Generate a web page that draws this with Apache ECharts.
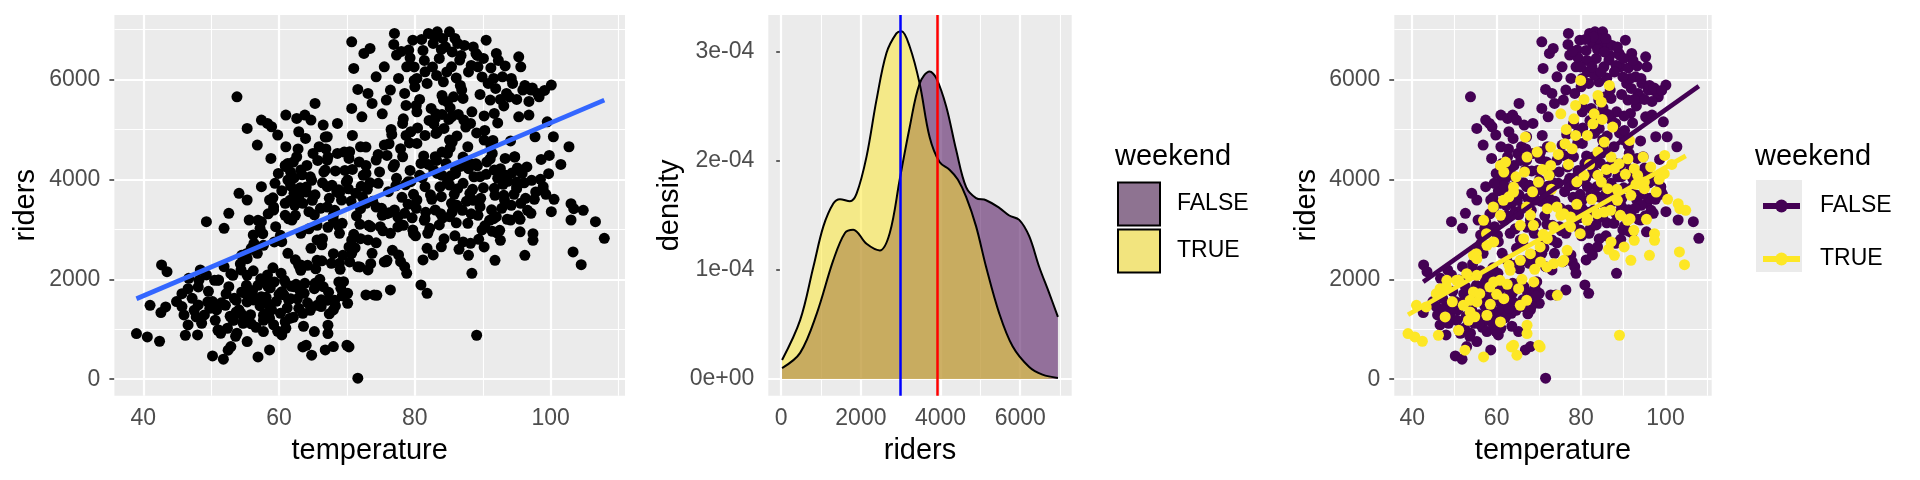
<!DOCTYPE html>
<html>
<head>
<meta charset="utf-8">
<script src="https://cdn.jsdelivr.net/npm/echarts@6/dist/echarts.min.js"></script>
<style>
  html, body { margin: 0; padding: 0; background: #fff; }
  #chart { width: 1920px; height: 480px; }
</style>
</head>
<body>
<div id="chart"></div>
<script>
// ---- data ----
// weekday days: [temperature, riders]
const weekdayPts = [
  [42.6,1333],[42.7,2287],[43.5,2153],[44.9,1553],[45.7,1453],[46.0,1287],[46.6,1087],[48.0,887],[46.7,2020],[48.4,2187],
  [48.1,1487],[49.0,1287],[49.3,3153],[49.3,2087],[50.2,467],[51.8,400],[52.9,653],[51.1,987],[50.2,1553],[50.8,1387],
  [51.4,920],[51.1,1987],[51.9,3020],[52.6,3320],[53.8,5653],[51.9,2253],[52.6,1853],[53.2,1187],[53.8,920],[54.1,3720],
  [55.3,3587],[55.3,5020],[55.6,3187],[54.4,2187],[55.0,1720],[55.3,753],[54.4,1320],[56.2,1587],[56.8,4687],[57.4,5187],
  [58.3,5120],[58.9,5053],[59.8,4887],[57.4,3153],[56.2,2887],[56.8,2520],[55.9,2620],[57.7,953],[58.6,587],[58.6,1220],
  [58.0,1987],[58.3,2087],[58.9,1387],[57.4,1653],[57.4,3853],[58.6,3587],[59.2,3387],[59.5,3053],[60.4,2753],[61.0,4653],
  [61.0,5287],[61.0,4253],[61.3,3987],[60.4,887],[61.0,1020],[60.4,1753],[61.0,1920],[61.6,1220],[61.3,2520],[62.6,5220],
  [62.9,4953],[63.8,5287],[64.7,5187],[65.3,5520],[65.0,4520],[62.6,4453],[63.2,4187],[62.2,3720],[63.5,3520],[61.9,3187],
  [63.2,2920],[63.2,2287],[62.2,1853],[63.7,1720],[63.5,1320],[65.2,953],[64.7,2620],[64.4,3353],[65.6,2787],[65.9,4653],
  [66.5,5087],[67.1,4853],[67.1,4387],[66.8,4187],[67.1,3853],[66.5,1853],[66.2,1453],[66.8,587],[68.0,653],[68.0,1387],
  [67.7,2320],[68.0,3187],[68.6,5120],[68.9,3720],[68.9,2920],[68.9,2320],[69.5,1953],[70.1,1720],[70.1,1520],[69.2,3587],
  [70.1,3987],[70.4,4553],[70.7,5420],[70.7,6753],[71.0,6220],[71.6,5800],[71.6,20],[71.3,3720],[70.7,2787],[70.7,2520],
  [71.6,2253],[72.0,4653],[72.2,5253],[72.5,6520],[73.4,6620],[73.1,5720],[73.7,5520],[72.8,4120],[72.8,3520],[72.8,1687],
  [74.0,1687],[73.1,2187],[73.1,2787],[73.7,2520],[74.3,6053],[74.3,4387],[74.6,3920],[74.9,3053],[75.5,6253],[75.5,4687],
  [75.8,5587],[76.1,3753],[76.4,2920],[75.8,2353],[76.4,1787],[76.4,5787],[77.0,6920],[77.3,6487],[77.6,6020],[77.3,4020],
  [77.0,3387],[77.6,2487],[77.9,2353],[78.5,2253],[78.8,2120],[78.5,3320],[78.2,5120],[78.2,4453],[78.5,5720],[78.8,6253],
  [79.1,6587],[79.4,4953],[79.4,3953],[79.7,2987],[79.7,6787],[80.0,5853],[80.3,5353],[80.3,4720],[80.3,3587],[80.9,1887],
  [81.8,1720],[81.2,2387],[81.8,2620],[82.7,2487],[81.5,3853],[80.9,4320],[81.5,6153],[81.8,5920],[82.0,6920],[82.7,6720],
  [83.3,6953],[83.6,6420],[83.0,5220],[83.3,4953],[83.0,4453],[83.3,4120],[83.0,3387],[83.6,3087],[83.9,3653],[84.2,5953],
  [84.2,5587],[84.5,6653],[85.1,6953],[85.4,6253],[85.7,5653],[85.4,5253],[85.1,4787],[84.8,4520],[85.1,3887],[85.4,3520],
  [85.1,3253],[86.0,4120],[86.3,6720],[86.6,6387],[86.9,5787],[87.2,5187],[87.8,4653],[88.1,4320],[88.1,3720],[88.4,5353],
  [88.4,2120],[89.0,6520],[89.3,6253],[89.9,2987],[89.6,3453],[89.6,4053],[90.2,4787],[90.5,6787],[90.8,5920],[91.1,5587],
  [91.4,4520],[91.7,4187],[92.0,3253],[92.0,6520],[91.7,5320],[92.9,6053],[93.2,3587],[93.5,5720],[94.1,3187],[94.4,5920],
  [94.7,4453],[95.0,3853],[95.3,6453],[95.6,6253],[95.3,5253],[95.6,3520],[95.9,5787],[96.8,5287],[97.1,3320],[97.1,5787],
  [98.3,5653],[97.7,4853],[98.9,3853],[98.9,3780],[100.1,5887],[99.5,5153],[100.4,4853],[100.1,3353],[102.7,4653],[103.0,3187],
  [106.6,3153],[107.9,2820],
  [51.5,1530],[52.2,1710],[52.8,1260],[53.4,1620],[54.1,1390],[54.7,1120],[55.2,1880],[55.8,1290],[56.1,1770],[56.6,1040],
  [57.2,1470],[57.7,1180],[58.1,1640],[58.7,1830],[59.2,1090],[59.6,1560],[60.2,1320],[60.7,1690],[61.2,1430],[61.8,1860],
  [62.1,1240],[62.7,1610],[63.1,1770],[63.6,1060],[64.2,1530],[64.6,1380],[65.3,1920],[66.2,1590],[67.3,1740],[68.2,1580],
  [69.1,1820],[53.2,2080],[54.3,2310],[56.2,2170],[57.3,2010],[59.1,2230],[60.3,2120],[62.4,2390],[64.2,2280],[65.4,2210],
  [66.3,2370],[67.4,1310],[68.3,1470],[69.3,1670],
  [56.3,2720],[57.2,3020],[58.4,3310],[59.1,3630],[60.2,2880],[61.4,3210],[62.3,3480],[63.1,3830],[64.4,3010],[65.2,3290],
  [66.3,2690],[67.4,3620],[68.2,3380],[69.3,3120],[70.2,3810],[71.4,3270],[72.3,3640],[73.2,3080],[74.3,2730],[75.1,3420],
  [60.4,3770],[62.2,4030],[64.1,4280],[66.4,3930],[68.3,4170],[70.3,4420],[72.1,3860],[61.3,4320],[63.4,4090],[65.3,3690],
  [67.2,3040],[69.4,2480],[71.2,2630],[73.4,3930],[75.3,2970],[76.2,3330],
  [77.2,3870],[78.1,3640],[79.3,4180],[80.2,3420],[81.1,4030],[82.3,3690],[83.2,4380],[84.1,3230],[85.3,4070],[86.2,3480],
  [87.1,3920],[88.3,3310],[89.2,4270],[90.1,3830],[91.3,3390],[92.2,4020],[93.1,3680],[94.3,4130],[95.2,3270],[96.1,3930],
  [78.3,3080],[80.1,2870],[82.2,3020],[84.3,2810],[86.1,3130],[88.2,2720],[90.3,3070],[92.1,2930],[94.2,3480],[96.3,3620],
  [79.2,4730],[81.3,4470],[83.1,4920],[85.2,4630],[87.3,4280],[89.1,4930],[91.2,4680],[93.3,4420],[95.1,4230],[97.2,3980],
  [80.4,5030],[82.1,5180],[84.3,5020],[86.2,4870],[88.2,5120],[90.3,4980],[92.2,5130],[94.1,4770],[80.2,5480],[82.4,5420],
  [85.2,5430],[87.1,5620],[90.2,5270],[93.1,5470],[80.3,6020],[83.2,6080],[86.1,6030],[88.3,6280],[91.2,6230],[93.3,6270],
  [79.3,6430],[81.2,6580],[84.1,6820],[87.3,6680],[89.2,6480],[92.3,6380],[94.2,6020],[96.2,5880],[98.1,5720],[97.3,5830],
  [99.1,5780],[81.4,6380],[82.6,6250],[84.7,6150],[86.8,6480],[88.6,6650],[90.1,6420],[91.6,6020],[83.9,6600],[85.9,6820],
  [82.9,6850],
  [58.8,4420],[59.9,4120],[61.7,3870],[62.8,4610],[63.9,4820],[64.8,3980],[65.7,4380],[66.9,4610],[67.8,3880],[68.6,4520],
  [69.7,4180],[70.8,4880],[71.8,4350],[59.4,3920],[60.9,3520],[62.4,3280],[64.9,3580],[66.1,3420],[68.8,3790],[70.6,3560],
  [71.9,3100],[73.8,3560],[74.8,4150],[75.9,4480],[76.8,4250],[76.6,4900],
  [47.2,1620],[49.6,1760],[50.6,1180],[52.4,1020],[53.6,860],[55.9,1110],[56.9,1880],[58.2,1320],[59.8,960],[61.4,1590],
  [62.9,1420],[63.8,1920],[49.8,1420],[48.6,1120],[47.5,1380],
  [78.6,3890],[79.8,3700],[81.6,3340],[82.8,4180],[83.7,3850],[84.6,4320],[85.8,3700],[86.7,4260],[87.6,3560],[88.7,4050],
  [89.7,3620],[90.6,4350],[91.7,3820],[92.8,3420],[93.7,3960],[94.6,3700],[95.8,4120],[96.6,3380],[97.6,3600],[98.6,4400],
  [99.3,3700],[79.6,3230],[81.9,2920],[83.9,2650],[85.9,2870],[87.8,3120],[89.4,2800],[91.4,2960],[93.6,3200],[95.5,2950],
  [76.9,6700],[78.0,6560],[79.9,6250],[81.0,6800],[85.5,6550],[87.9,6150],[89.9,6050],[91.9,5820],[93.9,5650],[96.8,5560],
  [95.0,5600],[92.6,5600],[89.6,5700],[86.4,5300],[84.0,5300]
];
// weekend days: [temperature, riders]
const weekendPts = [
  [39.0,913],[40.6,847],[42.4,760],[41.0,1480],[46.6,1813],[47.8,1247],[46.2,880],[52.5,580],[56.9,447],[52.1,1480],
  [53.7,1347],[53.3,1180],[55.3,1547],[54.5,1747],[51.0,980],[48.2,1980],[51.0,1980],[55.3,2080],[54.5,2480],[56.9,3180],
  [60.9,3280],[59.3,2747],[62.9,2280],[66.4,2813],[64.0,680],[67.2,1080],[67.2,913],[65.6,1480],[68.8,1947],[70.0,680],
  [65.2,1813],[61.7,1613],[59.3,1947],[57.7,1280],[60.9,1147],[72.0,3413],[72.0,2813],[70.4,2347],[68.0,3280],[65.6,3080],
  [55.3,2413],[57.7,2680],[89.1,880],[87.1,2747],[87.9,2480],[90.2,2647],[91.8,2380],[92.6,2780],[96.2,2480],[97.4,2913],
  [97.4,2780],[103.3,2547],[104.5,2293],[75.2,3280],[74.4,1680],[75.5,2347],[81.5,3213],[89.3,3280],[91.6,3213],[85.5,3347],
  [103.4,3413],[79.9,5980],[86.7,5880],[84.0,5680],[84.8,5547],[78.7,5480],[78.3,5213],[83.1,5313],[82.8,5113],[87.5,5047],
  [75.2,5313],[78.7,4880],[81.5,4880],[85.5,4747],[76.2,4713],[77.9,4613],[84.0,4547],[87.1,4447],[91.1,4413],[94.7,4447],
  [91.5,4780],[99.8,4480],[89.0,4313],[87.9,4213],[92.6,4213],[84.8,3947],[84.0,4080],[86.3,3813],[80.7,4080],[93.4,4080],
  [95.0,3813],[97.8,3747],[95.0,3947],[91.8,3680],[103.0,3513],[66.8,4847],[69.6,4547],[60.9,4280],[62.1,4347],[61.7,4147],
  [67.2,4447],[64.0,3747],[69.9,3947],[72.8,4647],[72.8,4280],[72.4,4080],[99.7,4113],[68.7,3080],[75.9,3313],[77.5,3247],
  [63.5,647],[64.8,480],[70.3,647],[67.1,1580],[104.8,3380],
  [71.9,2247],[73.5,2313],[75.9,2380],[76.7,2580],[79.8,2913],[81.4,3180],[83.8,3313],[87.0,3380],[88.6,3580],[91.0,3180],
  [92.5,2980],[77.5,3047],[74.3,3447],[67.1,3447],[64.0,3847],[61.6,3580],[59.2,3447],[57.6,2913],[55.2,2513],[52.9,2113],
  [50.5,1980],[48.1,1847],[45.7,1713],[43.3,1447],[53.7,1580],[56.0,1713],[58.4,1847],[60.8,1980],[63.2,2180],[65.6,2380],
  [68.0,2513],[70.3,2647],
  [62.9,3650],[64.6,4050],[66.6,4150],[68.5,3750],[70.8,4200],[73.0,3800],[74.6,4500],[77.0,4300],[79.0,3950],[82.0,4300],
  [86.0,4200],[88.5,3800],[90.5,4100],[93.0,3900],[96.5,4250],[98.5,4000],[85.0,5200],[80.7,5600],[76.5,5000],[58.5,1500],
  [60.0,1700],[54.8,1250],[49.5,1550],[62.5,1900],[66.0,2000],[69.0,2200],[71.0,2900],[73.5,3050],[79.0,3500],[82.5,3600],
  [86.5,2600],[95.5,3200],[100.5,3600],[101.5,4300]
];
// fitted straight lines (end points)
const fitAll = [[39.0, 1610], [107.9, 5585]];
const fitWeekday = [[42.6, 1947], [107.9, 5867]];
const fitWeekend = [[39.0, 1290], [104.8, 4470]];

// density curves: riders grid and density values (x 1e-4)
const densWeekdayX = [22,475,892,1308,1600,1808,2142,2475,2725,2975,3225,3475,3725,3892,4142,4392,4642,4892,5142,5475,5725,5975,6225,6475,6725,6946];
const densWeekdayY = [0.10,0.24,0.60,1.09,1.34,1.37,1.24,1.18,1.34,1.83,2.31,2.71,2.82,2.76,2.50,2.10,1.76,1.66,1.64,1.57,1.50,1.46,1.31,1.03,0.79,0.57];
const densWeekendX = [22,475,808,1058,1308,1475,1725,1892,2142,2392,2642,2892,3017,3225,3475,3725,3975,4225,4433,4642,4892,5142,5475,5808,6225,6558,6946];
const densWeekendY = [0.174,0.54,1.03,1.40,1.61,1.65,1.63,1.70,2.04,2.56,2.99,3.17,3.19,3.05,2.71,2.22,1.99,1.92,1.83,1.67,1.40,1.03,0.60,0.30,0.11,0.04,0.01];
const densScale = 1e-4;
const meanLines = [2978, 3917];
const meanColors = ['#0000FF', '#FF0000'];

// ticks
const tempMajor = [40, 60, 80, 100];
const tempMinor = [50, 70, 90, 110];
const riderMajor = [0, 2000, 4000, 6000];
const riderMinor = [1000, 3000, 5000, 7000];
const densMajor = [0, 1e-4, 2e-4, 3e-4];
const densMinor = [0.5e-4, 1.5e-4, 2.5e-4];
const densLabels = ['0e+00', '1e-04', '2e-04', '3e-04'];

const FONT = 'Liberation Sans, Arial, Helvetica, sans-serif';
const PURPLE = '#440154';
const YELLOW = '#FDE725';
const TICK_FS = 23;
const TITLE_FS = 29;

const chart = echarts.init(document.getElementById('chart'));

// panel background grid lines, put through the axes' own scales
function gridLines(idx, xMaj, xMin, yMaj, yMin) {
  const ln = (w) => ({ color: '#FFFFFF', width: w, type: 'solid' });
  const data = []
  xMin.forEach(v => data.push({ xAxis: v, lineStyle: ln(1.1) }))
  yMin.forEach(v => data.push({ yAxis: v, lineStyle: ln(1.1) }))
  xMaj.forEach(v => data.push({ xAxis: v, lineStyle: ln(2.2) }))
  yMaj.forEach(v => data.push({ yAxis: v, lineStyle: ln(2.2) }))
  return {
    type: 'scatter', xAxisIndex: idx, yAxisIndex: idx, data: [], z: 1, silent: true,
    markLine: { z: 1, silent: true, symbol: ['none', 'none'], label: { show: false },
      emphasis: { disabled: true }, animation: false, data: data }
  }
}

function xAxisOf(idx, min, max, ticks, name, fmt) {
  return {
    type: 'value', gridIndex: idx, min: min, max: max,
    name: name, nameLocation: 'middle', nameGap: 40.5,
    nameTextStyle: { fontFamily: FONT, fontSize: TITLE_FS, color: '#000' },
    axisLine: { show: false },
    axisTick: { show: true, customValues: ticks, length: 5, lineStyle: { color: '#333333', width: 1.5 } },
    axisLabel: { customValues: ticks, margin: 11, fontFamily: FONT, fontSize: TICK_FS, color: '#4D4D4D', formatter: fmt },
    splitLine: { show: false }
  }
}
function yAxisOf(idx, min, max, ticks, name, gap, fmt) {
  return {
    type: 'value', gridIndex: idx, min: min, max: max,
    name: name, nameLocation: 'middle', nameGap: gap,
    nameTextStyle: { fontFamily: FONT, fontSize: TITLE_FS, color: '#000' },
    axisLine: { show: false },
    axisTick: { show: true, customValues: ticks, length: 5, lineStyle: { color: '#333333', width: 1.5 } },
    axisLabel: { customValues: ticks, margin: 14, fontFamily: FONT, fontSize: TICK_FS, color: '#4D4D4D', formatter: fmt },
    splitLine: { show: false }
  }
}
const plain = v => String(Math.round(v));
const densFmt = v => densLabels[densMajor.findIndex(t => Math.abs(t - v) < 1e-9)];

const gridBase = { show: true, backgroundColor: '#EBEBEB', borderWidth: 0, top: 15, height: 380.7 };
const legendTitle = { fontFamily: FONT, fontSize: TITLE_FS, fontWeight: 'normal', color: '#000' };

const option = {
  animation: false,
  backgroundColor: '#FFFFFF',
  textStyle: { fontFamily: FONT },
  grid: [
    Object.assign({ left: 114.4, width: 510.6 }, gridBase),
    Object.assign({ left: 768.3, width: 303.4 }, gridBase),
    Object.assign({ left: 1394.3, width: 317.4 }, gridBase)
  ],
  xAxis: [
    xAxisOf(0, 35.75, 110.95, tempMajor, 'temperature', plain),
    xAxisOf(1, -324, 7292, riderMajor, 'riders', plain),
    xAxisOf(2, 35.75, 110.95, tempMajor, 'temperature', plain)
  ],
  yAxis: [
    yAxisOf(0, -330, 7290, riderMajor, 'riders', 73.5, plain),
    yAxisOf(1, -0.153e-4, 3.339e-4, densMajor, 'density', 84, densFmt),
    yAxisOf(2, -330, 7290, riderMajor, 'riders', 73, plain)
  ],
  title: [
    { text: 'weekend', left: 1115, top: 142.5, padding: 0, textStyle: legendTitle },
    { text: 'weekend', left: 1755, top: 142.5, padding: 0, textStyle: legendTitle }
  ],
  graphic: [
    { type: 'rect', left: 1756, top: 180, z: 0, silent: true,
      shape: { width: 46, height: 92 }, style: { fill: '#EBEBEB' } }
  ],
  legend: [
    { orient: 'vertical', left: 1117, top: 181.5, padding: 0, itemGap: 2,
      itemWidth: 42, itemHeight: 43, selectedMode: false,
      formatter: n => n.slice(1),
      textStyle: { fontFamily: FONT, fontSize: TICK_FS, color: '#000', padding: [0, 0, 0, 12] },
      data: [
        { name: 'dFALSE', icon: 'rect', itemStyle: { color: '#8E7391', borderColor: '#000', borderWidth: 2 } },
        { name: 'dTRUE', icon: 'rect', itemStyle: { color: '#F2E47E', borderColor: '#000', borderWidth: 2 } }
      ] },
    { orient: 'vertical', left: 1760, top: 194.5, padding: 0, itemGap: 30,
      itemWidth: 37, itemHeight: 16, selectedMode: false,
      formatter: n => n.slice(1),
      lineStyle: { width: 6 },
      textStyle: { fontFamily: FONT, fontSize: TICK_FS, color: '#000', padding: [0, 0, 0, 15] },
      data: [{ name: 'pFALSE' }, { name: 'pTRUE' }] }
  ],
  series: [
    gridLines(0, tempMajor, tempMinor, riderMajor, riderMinor),
    gridLines(1, riderMajor, riderMinor, densMajor, densMinor),
    gridLines(2, tempMajor, tempMinor, riderMajor, riderMinor),

    // panel 1
    { type: 'scatter', xAxisIndex: 0, yAxisIndex: 0, z: 3, symbolSize: 11,
      itemStyle: { color: '#000000', opacity: 1 }, data: weekdayPts, silent: true },
    { type: 'scatter', xAxisIndex: 0, yAxisIndex: 0, z: 3, symbolSize: 11,
      itemStyle: { color: '#000000', opacity: 1 }, data: weekendPts, silent: true },
    { type: 'line', xAxisIndex: 0, yAxisIndex: 0, z: 4, showSymbol: false, symbol: 'none',
      lineStyle: { color: '#3366FF', width: 4.7 }, data: fitAll, silent: true },

    // panel 2
    { name: 'dFALSE', type: 'line', xAxisIndex: 1, yAxisIndex: 1, z: 3, smooth: 0.35,
      symbol: 'none', lineStyle: { color: '#000', width: 2 },
      itemStyle: { color: '#8E7391' },
      areaStyle: { color: 'rgba(68,1,84,0.53)', opacity: 1 },
      data: densWeekdayX.map((x, i) => [x, densWeekdayY[i] * densScale]), silent: true },
    { name: 'dTRUE', type: 'line', xAxisIndex: 1, yAxisIndex: 1, z: 3, smooth: 0.35,
      symbol: 'none', lineStyle: { color: '#000', width: 2 },
      itemStyle: { color: '#F2E47E' },
      areaStyle: { color: 'rgba(253,231,37,0.5)', opacity: 1 },
      data: densWeekendX.map((x, i) => [x, densWeekendY[i] * densScale]), silent: true },
    { type: 'scatter', xAxisIndex: 1, yAxisIndex: 1, data: [], z: 5, silent: true,
      markLine: { silent: true, symbol: ['none', 'none'], label: { show: false }, animation: false,
        data: meanLines.map((v, i) => ({ xAxis: v, lineStyle: { color: meanColors[i], width: 2.5, type: 'solid' } })) } },

    // panel 3
    { type: 'scatter', xAxisIndex: 2, yAxisIndex: 2, z: 3, symbolSize: 11,
      itemStyle: { color: PURPLE, opacity: 1 }, data: weekdayPts, silent: true },
    { type: 'scatter', xAxisIndex: 2, yAxisIndex: 2, z: 3, symbolSize: 11,
      itemStyle: { color: YELLOW, opacity: 1 }, data: weekendPts, silent: true },
    { name: 'pFALSE', type: 'line', xAxisIndex: 2, yAxisIndex: 2, z: 4, showSymbol: false,
      symbol: 'circle', symbolSize: 11, itemStyle: { color: PURPLE },
      lineStyle: { color: PURPLE, width: 4.7 }, data: fitWeekday, silent: true },
    { name: 'pTRUE', type: 'line', xAxisIndex: 2, yAxisIndex: 2, z: 4, showSymbol: false,
      symbol: 'circle', symbolSize: 11, itemStyle: { color: YELLOW },
      lineStyle: { color: YELLOW, width: 4.7 }, data: fitWeekend, silent: true }
  ]
};

chart.setOption(option);
</script>
</body>
</html>
